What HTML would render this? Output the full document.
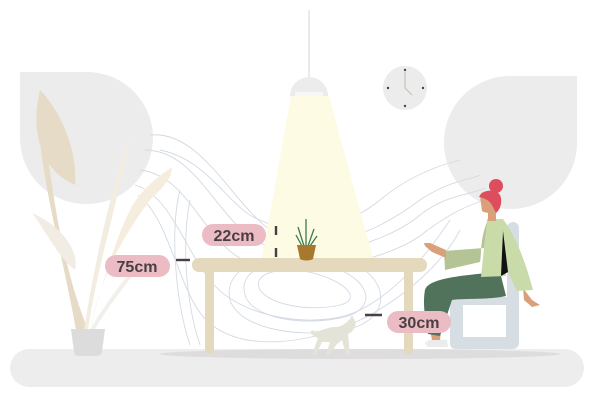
<!DOCTYPE html>
<html><head><style>
html,body{margin:0;padding:0;background:#fff;}
svg{display:block;}
text{font-family:"Liberation Sans",sans-serif;font-weight:bold;}
</style></head><body>
<svg width="600" height="404" viewBox="0 0 600 404" xmlns="http://www.w3.org/2000/svg">
<rect x="10" y="349" width="574" height="38" rx="19" fill="#ededed"/>
<ellipse cx="360" cy="354" rx="200" ry="5" fill="#dedcdc"/>
<path d="M20 72 H87 A66 66 0 0 1 153 138 A66 66 0 0 1 87 204 A66 66 0 0 1 20 138 Z" fill="#ececec"/>
<path d="M577 76 V143 A66 66 0 0 1 511 209 A66 66 0 0 1 444 143 A66 66 0 0 1 511 76 Z" fill="#ececec"/>
<g fill="none" stroke="#d3dae3" stroke-width="0.9">
<path d="M150 135 C200 130 230 200 270 230 C320 260 380 230 420 200 C450 180 470 180 480 175"/>
<path d="M145 150 C195 150 215 215 255 240 C300 268 385 245 420 215 C445 195 470 195 485 188"/>
<path d="M140 170 C185 175 200 230 235 255 C280 285 390 262 425 232 C455 210 470 205 485 200"/>
<path d="M135 185 C170 195 185 250 210 280 C240 320 320 330 360 310 C400 290 430 250 450 220"/>
<path d="M138 195 C165 215 175 270 195 305 C220 350 280 345 320 335 C380 320 440 270 460 230"/>
<path d="M180 190 C170 230 175 300 190 345"/>
<path d="M190 200 C182 240 185 300 200 345"/>
<path d="M260 290 C250 270 290 265 320 275 C350 285 360 300 340 305 C310 312 270 305 260 290 Z"/>
<path d="M245 295 C235 260 300 255 335 268 C370 280 380 310 340 318 C300 326 252 318 245 295 Z"/>
<path d="M230 300 C220 255 305 245 345 260 C390 275 395 320 345 330 C300 338 240 330 230 300 Z"/>
<path d="M160 150 C210 160 230 210 260 220 C300 240 350 225 380 200 C410 175 440 165 460 160"/>
</g>
<path d="M291 96 L329 96 L373 258 L262 258 Z" fill="#fdfbe3"/>
<line x1="309" y1="10" x2="309" y2="78" stroke="#e2e2e2" stroke-width="1.5"/>
<path d="M290 96 A19 19 0 0 1 328 96 Z" fill="#ececec"/>
<rect x="295" y="92" width="28" height="4" fill="#f7f7f7"/>
<circle cx="405" cy="88" r="22" fill="#ececec"/>
<g fill="#444"><circle cx="405" cy="70" r="1.2"/><circle cx="405" cy="106" r="1.2"/><circle cx="388" cy="88" r="1.2"/><circle cx="423" cy="88" r="1.2"/></g>
<path d="M405 72 V88 L412 95" stroke="#c8c4b5" stroke-width="1.2" fill="none"/>
<path d="M76 330 L88 330 C60 260 50 180 40 90 C32 150 60 240 76 330 Z" fill="#e6dbc7"/>
<path d="M40 90 C30 130 40 170 75 185 C78 150 60 110 40 90 Z" fill="#e6dbc7"/>
<path d="M32 213 C45 230 60 260 75 270 C80 250 60 225 32 213 Z" fill="#f2ede4"/>
<path d="M88 330 C95 280 110 230 132 133 C115 170 95 260 84 330 Z" fill="#f3ece0"/>
<path d="M90 330 C100 280 120 240 150 200 C160 190 172 180 172 167 C160 175 140 190 130 210 C115 240 100 290 90 330 Z" fill="#f5eedf"/>
<path d="M92 330 C110 300 130 275 145 258" stroke="#f2f0ea" stroke-width="4" fill="none"/>
<path d="M71 329 H105 L102 352 C101 356 98 356 95 356 H80 C76 356 74 355 74 352 Z" fill="#dcdcdc"/>
<rect x="192" y="258" width="235" height="14" rx="7" fill="#e4d8bd"/>
<rect x="205" y="266" width="9" height="88" rx="4.5" fill="#e4d8bd"/>
<rect x="404" y="266" width="9" height="88" rx="4.5" fill="#e4d8bd"/>
<g stroke="#3d7a4c" stroke-width="1.3" fill="none">
<path d="M306 246 V219"/><path d="M304 246 L298 227"/><path d="M308 246 L314 229"/><path d="M302 246 L296 235"/><path d="M310 246 L317 236"/>
</g>
<path d="M297 245 H316 L313 259 C310 261 303 261 300 259 Z" fill="#a8782f"/>
<path d="M312 330 C318 334 325 327 335 327 C342 327 346 323 350 319 L352 315 L355 321 C357 326 353 332 348 334 L350 355 L346 355 L342 340 L336 345 L330 355 L326 355 L330 342 L322 342 L316 355 L312 355 L318 338 C312 336 309 332 312 330 Z" fill="#e3e3d8"/>
<rect x="507" y="222" width="12" height="125" rx="6" fill="#d6dde3"/>
<path d="M456 297 H519 V343 C519 347 516 349 512 349 H456 C452 349 450 347 450 343 V303 C450 299 452 297 456 297 Z M463 305 V337 H506 V305 Z" fill="#d6dde3" fill-rule="evenodd"/>
<path d="M425 344 C425 341 432 338 438 339 L447 340 L448 347 L428 347 Z" fill="#ececec"/>
<path d="M430 330 H441 L440 340 H432 Z" fill="#d9a07a"/>
<path d="M425 290 C428 280 450 276 500 272 L506 296 C490 300 465 298 452 300 L440 336 L428 334 C424 315 423 300 425 290 Z" fill="#51735c"/>
<path d="M523 288 L532 300 L540 305 L532 307 L524 300 Z" fill="#d9a07a"/>
<path d="M487 219 L503 219 C515 235 525 260 533 290 L517 291 C512 280 508 272 506 270 L506 276 L481 277 L484 248 Z" fill="#c9dba8"/>
<path d="M503 231 L508 272 L501 276 Z" fill="#111"/>
<path d="M487 222 C480 240 482 250 480 262 L445 270 L444 251 L484 248 Z" fill="#b5c495"/>
<path d="M424 243 L430 243 L446 250 L446 258 L432 252 L425 246 Z" fill="#d9a07a"/>
<rect x="488" y="207" width="8" height="14" fill="#d9a07a"/>
<path d="M480 196 C480 192 486 190 490 192 L497 196 L497 211 C492 214 485 213 482 211 Z" fill="#d9a07a"/>
<circle cx="496" cy="186" r="7" fill="#de4d5e"/>
<path d="M479 197 C482 190 495 188 500 195 C503 202 500 210 496 213 L492 205 C489 200 484 198 479 197 Z" fill="#de4d5e"/>
<rect x="202" y="224" width="64" height="22" rx="11" fill="#ebbcc4"/>
<text x="234" y="241" font-size="16" fill="#4a3f42" text-anchor="middle">22cm</text>
<rect x="105" y="255" width="65" height="22" rx="11" fill="#ebbcc4"/>
<text x="137" y="272" font-size="16" fill="#4a3f42" text-anchor="middle">75cm</text>
<rect x="387" y="311" width="64" height="22" rx="11" fill="#ebbcc4"/>
<text x="419" y="328" font-size="16" fill="#4a3f42" text-anchor="middle">30cm</text>
<g stroke="#4a3f42" stroke-width="2.4">
<line x1="276" y1="226" x2="276" y2="235"/><line x1="276" y1="248" x2="276" y2="257"/>
<line x1="176" y1="260" x2="190" y2="260"/>
<line x1="365" y1="315" x2="382" y2="315"/>
</g>
</svg>
</body></html>
